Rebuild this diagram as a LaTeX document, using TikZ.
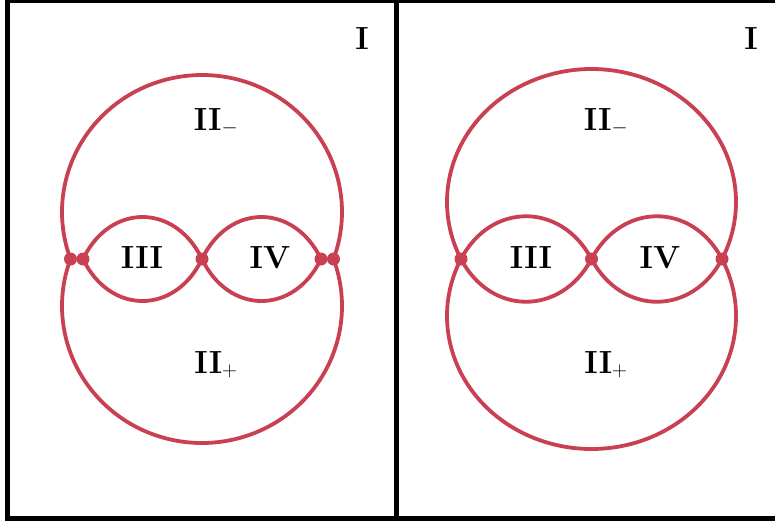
\documentclass[tikz,border=0pt]{standalone}
\definecolor{curvered}{RGB}{200,64,82}
\tikzset{
  frame/.style={line width=5pt, draw=black, line join=miter},
  curve/.style={line width=3.8pt, draw=curvered, line cap=round},
  dotmark/.style={circle, fill=curvered, inner sep=0pt, minimum size=13pt},
  lab/.style={anchor=base, inner sep=0pt, font=\fontsize{32}{32}\selectfont\bfseries}
}
\begin{document}
\begin{tikzpicture}[x=1pt, y=-1pt]
\useasboundingbox (0,0) rectangle (775,523);
% frame
\draw[frame] (7,0) rectangle (800,518.5);
\draw[frame] (396.5,0) -- (396.5,518.5);
% ---------- left panel ----------
\coordinate (La) at (70.5,259);
\coordinate (Lb) at (83,259);
\coordinate (Lc) at (202,259);
\coordinate (Ld) at (321,259);
\coordinate (Le) at (333.5,259);
\draw[curve] plot[domain=-20.06:200.06, samples=120, smooth] ({202+140*cos(\x)}, {212-137*sin(\x)});
\draw[curve] plot[domain=-20.06:200.06, samples=120, smooth] ({202+140*cos(\x)}, {306+137*sin(\x)});
\draw[curve] (Lb) .. controls (110,203) and (175,203) .. (Lc);
\draw[curve] (Lb) .. controls (110,315) and (175,315) .. (Lc);
\draw[curve] (Lc) .. controls (229,203) and (294,203) .. (Ld);
\draw[curve] (Lc) .. controls (229,315) and (294,315) .. (Ld);
\foreach \p in {La,Lb,Lc,Ld,Le} \node[dotmark] at (\p) {};
\node[lab] (LI) at (362,49) {I};
\node[lab] (LIIm) at (216,130) {II$_{-}$};
\node[lab] (LIIp) at (216,373) {II$_{+}$};
\node[lab] (LIII) at (142,268) {III};
\node[lab] (LIV) at (270,268) {IV};
% ---------- right panel ----------
\coordinate (Ra) at (461,259);
\coordinate (Rc) at (591.5,259);
\coordinate (Re) at (722,259);
\draw[curve] plot[domain=-25.38:205.38, samples=120, smooth] ({591.5+144.5*cos(\x)}, {202-133*sin(\x)});
\draw[curve] plot[domain=-25.38:205.38, samples=120, smooth] ({591.5+144.5*cos(\x)}, {316+133*sin(\x)});
\draw[curve] (Ra) .. controls (491,202) and (561,202) .. (Rc);
\draw[curve] (Ra) .. controls (491,316) and (561,316) .. (Rc);
\draw[curve] (Rc) .. controls (622,202) and (692,202) .. (Re);
\draw[curve] (Rc) .. controls (622,316) and (692,316) .. (Re);
\foreach \p in {Ra,Rc,Re} \node[dotmark] at (\p) {};
\node[lab] (RI) at (751,49) {I};
\node[lab] (RIIm) at (606,130) {II$_{-}$};
\node[lab] (RIIp) at (606,373) {II$_{+}$};
\node[lab] (RIII) at (531,268) {III};
\node[lab] (RIV) at (660,268) {IV};
\end{tikzpicture}
\end{document}
